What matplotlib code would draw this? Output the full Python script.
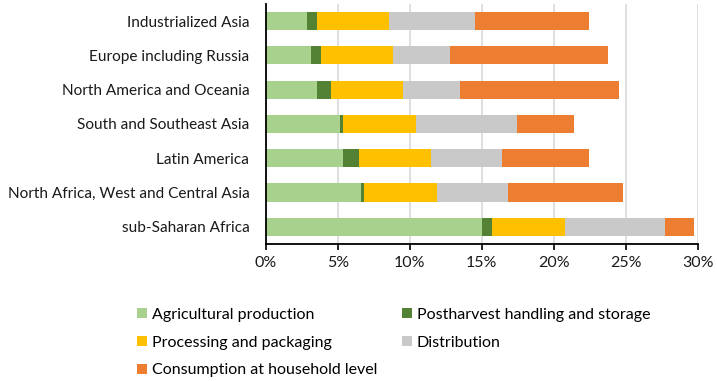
import numpy as np
import matplotlib
matplotlib.use("Agg")
import matplotlib.pyplot as plt
from matplotlib.patches import Patch

plt.rcParams['font.family'] = ['Lato', 'DejaVu Sans']

regions = ["Industrialized Asia", "Europe including Russia",
           "North America and Oceania", "South and Southeast Asia",
           "Latin America", "North Africa, West and Central Asia",
           "sub-Saharan Africa"]

stages = ["Agricultural production", "Postharvest handling and storage",
          "Processing and packaging", "Distribution",
          "Consumption at household level"]

# share of food loss and waste per stage, in %
agricultural = [2.87, 3.10, 3.52, 5.12, 5.33, 6.60, 15.04]
postharvest = [0.65, 0.72, 0.97, 0.26, 1.11, 0.24, 0.69]
processing = [5.03, 5.01, 5.03, 5.02, 5.03, 5.02, 5.03]
distribution = [5.98, 3.98, 3.96, 7.02, 4.93, 4.94, 6.97]
consumption = [7.94, 10.99, 11.08, 3.99, 6.05, 8.01, 2.00]

colors = ["#A9D18E", "#548235", "#FFC000", "#C9C9C9", "#ED7D31"]
fs = 11.5

fig = plt.figure(figsize=(7.17, 3.81), dpi=100)
ax = fig.add_axes([0.371, 0.3596, 0.602, 0.63])

y = np.arange(len(regions))
left = np.zeros(len(regions))
handles = []
for vals, col, name in zip([agricultural, postharvest, processing,
                            distribution, consumption], colors, stages):
    ax.barh(y, vals, left=left, height=0.53, color=col, zorder=3)
    left += np.array(vals)
    handles.append(Patch(facecolor=col, label=name))

ax.set_xlim(0, 30)
ax.set_ylim(-0.5, 6.5)
ax.invert_yaxis()
ax.set_yticks(y)
ax.set_yticklabels(regions, fontsize=11.1, color="#1a1a1a")
ax.set_xticks(np.arange(0, 31, 5))
ax.set_xticklabels([f"{v}%" for v in range(0, 31, 5)], fontsize=fs,
                   color="#1a1a1a")
ax.tick_params(axis="y", length=0, pad=12)
ax.tick_params(axis="x", length=4, width=1.2, direction="out", pad=5)
ax.grid(axis="x", color="#D9D9D9", linewidth=1.2, zorder=0)

for s in ["top", "right"]:
    ax.spines[s].set_visible(False)
ax.spines["left"].set_linewidth(1.3)
ax.spines["bottom"].set_linewidth(1.3)
ax.spines["left"].set_zorder(4)

# row-wise order in a two column legend
order = [0, 2, 4, 1, 3]
fig.legend([handles[i] for i in order], [stages[i] for i in order],
           ncol=2, loc="upper left", bbox_to_anchor=(0.191, 0.192),
           frameon=False, fontsize=fs, handlelength=0.62, handleheight=0.62,
           handletextpad=0.32, labelspacing=0.86, columnspacing=1.53,
           borderaxespad=0, borderpad=0)

fig.savefig("out.png", dpi=100)
